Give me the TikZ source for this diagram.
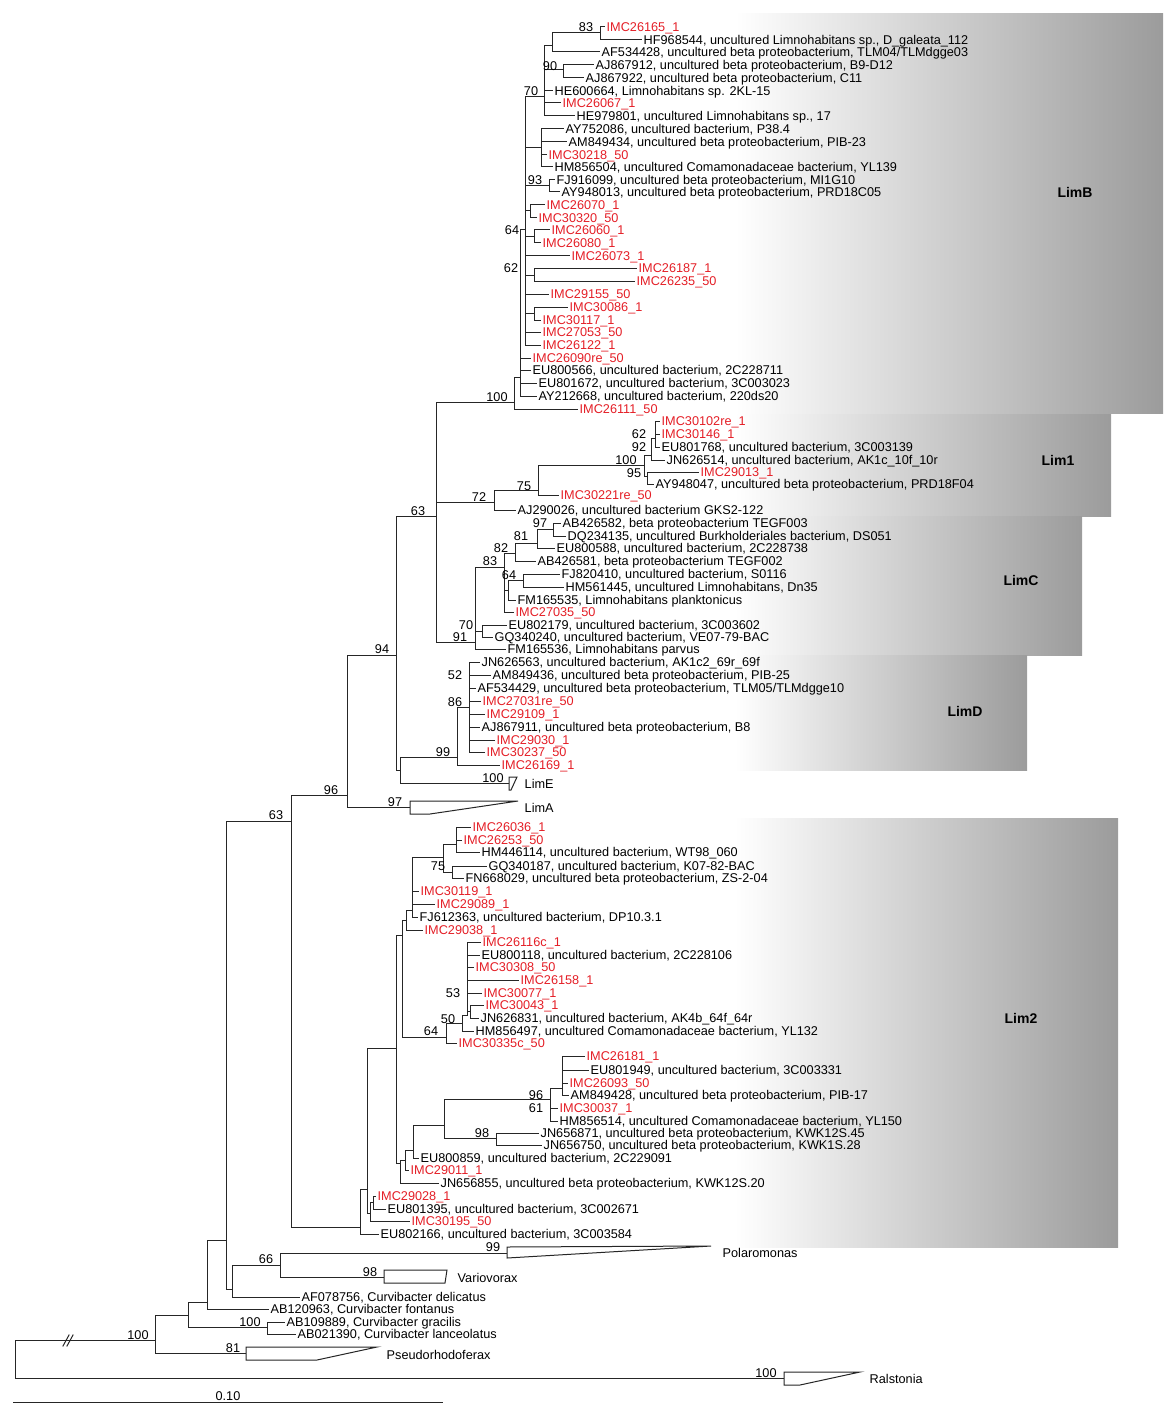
\documentclass[tikz,border=0pt]{standalone}
\usepackage{fontspec}
\setmainfont{Liberation Sans}
\usepackage{xcolor}
\usepackage{tikz}
\usetikzlibrary{positioning}

\definecolor{isolate}{RGB}{228,30,38}

\begin{document}
\begin{tikzpicture}[
    x=1pt, y=-1pt,
    branch/.style={line width=1pt, line cap=rect, black!85},
    leaf/.style={anchor=west, inner xsep=2.5pt, inner ysep=0pt, text height=11pt, text depth=2pt, font=\fontsize{12.7}{14}\selectfont},
    iso/.style={leaf, text=isolate},
    boot/.style={inner sep=0pt, font=\fontsize{12.7}{14}\selectfont},
    collapsed/.style={draw, line width=1pt, black!85, fill=white},
    band/.style={left color=white, right color=gray!78},
    cladename/.style={inner sep=0pt, font=\bfseries\fontsize{14}{16}\selectfont}
]

\useasboundingbox (0,0) rectangle (1173,1423);

% shaded clade bands
\shade[band] (735,14) rectangle (1163,413);
\shade[band] (735,414) rectangle (1111,516);
\shade[band] (735,516) rectangle (1082,655);
\shade[band] (735,655) rectangle (1027,770);
\shade[band] (735,818) rectangle (1118,1247);

\node[cladename] (limBname) at (1075,192) {LimB};
\node[cladename] (lim1name) at (1058,460) {Lim1};
\node[cladename] (limCname) at (1021,580) {LimC};
\node[cladename] (limDname) at (965,711) {LimD};
\node[cladename] (lim2name) at (1021,1018) {Lim2};

% LimB
\node[iso]  (imc26165) at (604,27)  {IMC26165\_1};
\node[leaf] (hf968544) at (641,40)  {HF968544, uncultured Limnohabitans sp., D\_galeata\_112};
\node[leaf] (af534428) at (599,52)  {AF534428, uncultured beta proteobacterium, TLM04/TLMdgge03};
\node[leaf] (aj867912) at (593,65)  {AJ867912, uncultured beta proteobacterium, B9-D12};
\node[leaf] (aj867922) at (583,78)  {AJ867922, uncultured beta proteobacterium, C11};
\node[leaf] (he600664) at (552,91)  {HE600664, Limnohabitans sp. 2KL-15};
\node[iso]  (imc26067) at (560,103) {IMC26067\_1};
\node[leaf] (he979801) at (574,116) {HE979801, uncultured Limnohabitans sp., 17};
\node[leaf] (ay752086) at (563,129) {AY752086, uncultured bacterium, P38.4};
\node[leaf] (am849434) at (566,142) {AM849434, uncultured beta proteobacterium, PIB-23};
\node[iso]  (imc30218) at (546,155) {IMC30218\_50};
\node[leaf] (hm856504) at (552,167) {HM856504, uncultured Comamonadaceae bacterium, YL139};
\node[leaf] (fj916099) at (554,180) {FJ916099, uncultured beta proteobacterium, MI1G10};
\node[leaf] (ay948013) at (559,192) {AY948013, uncultured beta proteobacterium, PRD18C05};
\node[iso]  (imc26070) at (544,205) {IMC26070\_1};
\node[iso]  (imc30320) at (536,218) {IMC30320\_50};
\node[iso]  (imc26060) at (549,230) {IMC26060\_1};
\node[iso]  (imc26080) at (540,243) {IMC26080\_1};
\node[iso]  (imc26073) at (569,256) {IMC26073\_1};
\node[iso]  (imc26187) at (636,268) {IMC26187\_1};
\node[iso]  (imc26235) at (634,281) {IMC26235\_50};
\node[iso]  (imc29155) at (548,294) {IMC29155\_50};
\node[iso]  (imc30086) at (567,307) {IMC30086\_1};
\node[iso]  (imc30117) at (540,320) {IMC30117\_1};
\node[iso]  (imc27053) at (540,332) {IMC27053\_50};
\node[iso]  (imc26122) at (540,345) {IMC26122\_1};
\node[iso]  (imc26090) at (530,358) {IMC26090re\_50};
\node[leaf] (eu800566) at (530,370) {EU800566, uncultured bacterium, 2C228711};
\node[leaf] (eu801672) at (536,383) {EU801672, uncultured bacterium, 3C003023};
\node[leaf] (ay212668) at (536,396) {AY212668, uncultured bacterium, 220ds20};
\node[iso]  (imc26111) at (577,409) {IMC26111\_50};

\draw[branch] (552,33) -- (600,33)  (600,27) -- (600,40)  (600,27) -- (imc26165)  (600,40) -- (hf968544);
\draw[branch] (544,46) -- (552,46)  (552,33) -- (552,52)  (552,52) -- (af534428);
\draw[branch] (544,70) -- (563,70)  (563,65) -- (563,78)  (563,65) -- (aj867912)  (563,78) -- (aj867922);
\draw[branch] (525,97) -- (544,97)  (544,46) -- (544,116)  (544,91) -- (he600664)  (544,103) -- (imc26067)  (544,116) -- (he979801);
\draw[branch] (525,148) -- (541,148)  (541,129) -- (541,167)  (541,129) -- (ay752086)  (541,142) -- (am849434)  (541,155) -- (imc30218)  (541,167) -- (hm856504);
\draw[branch] (525,186) -- (549,186)  (549,180) -- (549,192)  (549,180) -- (fj916099)  (549,192) -- (ay948013);
\draw[branch] (525,211) -- (530,211)  (530,205) -- (530,218)  (530,205) -- (imc26070)  (530,218) -- (imc30320);
\draw[branch] (525,237) -- (534,237)  (534,230) -- (534,243)  (534,230) -- (imc26060)  (534,243) -- (imc26080);
\draw[branch] (525,275) -- (534,275)  (534,268) -- (534,281)  (534,268) -- (imc26187)  (534,281) -- (imc26235);
\draw[branch] (525,313) -- (534,313)  (534,307) -- (534,320)  (534,307) -- (imc30086)  (534,320) -- (imc30117);
\draw[branch] (520,230) -- (525,230)  (525,97) -- (525,345)  (525,256) -- (imc26073)  (525,294) -- (imc29155)  (525,332) -- (imc27053)  (525,345) -- (imc26122);
\draw[branch] (514,377) -- (520,377)  (520,230) -- (520,396)  (520,358) -- (imc26090)  (520,370) -- (eu800566)  (520,383) -- (eu801672)  (520,396) -- (ay212668);
\draw[branch] (436,402) -- (514,402)  (514,377) -- (514,409)  (514,409) -- (imc26111);

% Lim1
\node[iso]  (imc30102) at (659,421) {IMC30102re\_1};
\node[iso]  (imc30146) at (659,434) {IMC30146\_1};
\node[leaf] (eu801768) at (659,447) {EU801768, uncultured bacterium, 3C003139};
\node[leaf] (jn626514) at (664,460) {JN626514, uncultured bacterium, AK1c\_10f\_10r};
\node[iso]  (imc29013) at (698,472) {IMC29013\_1};
\node[leaf] (ay948047) at (653,484) {AY948047, uncultured beta proteobacterium, PRD18F04};
\node[iso]  (imc30221) at (558,495) {IMC30221re\_50};
\node[leaf] (aj290026) at (515,510) {AJ290026, uncultured bacterium GKS2-122};

\draw[branch] (651,438) -- (655,438)  (655,421) -- (655,447)  (655,421) -- (imc30102)  (655,434) -- (imc30146)  (655,447) -- (eu801768);
\draw[branch] (644,455) -- (651,455)  (651,438) -- (651,460)  (651,460) -- (jn626514);
\draw[branch] (644,476) -- (647,476)  (647,472) -- (647,484)  (647,472) -- (imc29013)  (647,484) -- (ay948047);
\draw[branch] (538,465) -- (644,465)  (644,455) -- (644,476);
\draw[branch] (494,490) -- (538,490)  (538,465) -- (538,495)  (538,495) -- (imc30221);
\draw[branch] (436,502) -- (494,502)  (494,490) -- (494,510)  (494,510) -- (aj290026);
\draw[branch] (396,516) -- (436,516)  (436,402) -- (436,642);

% LimC
\node[leaf] (ab426582) at (560,523) {AB426582, beta proteobacterium TEGF003};
\node[leaf] (dq234135) at (565,536) {DQ234135, uncultured Burkholderiales bacterium, DS051};
\node[leaf] (eu800588) at (554,548) {EU800588, uncultured bacterium, 2C228738};
\node[leaf] (ab426581) at (535,561) {AB426581, beta proteobacterium TEGF002};
\node[leaf] (fj820410) at (559,574) {FJ820410, uncultured bacterium, S0116};
\node[leaf] (hm561445) at (563,587) {HM561445, uncultured Limnohabitans, Dn35};
\node[leaf] (fm165535) at (515,600) {FM165535, Limnohabitans planktonicus};
\node[iso]  (imc27035) at (513,612) {IMC27035\_50};
\node[leaf] (eu802179) at (506,625) {EU802179, uncultured bacterium, 3C003602};
\node[leaf] (gq340240) at (492,637) {GQ340240, uncultured bacterium, VE07-79-BAC};
\node[leaf] (fm165536) at (505,649) {FM165536, Limnohabitans parvus};

\draw[branch] (537,529) -- (553,529)  (553,523) -- (553,536)  (553,523) -- (ab426582)  (553,536) -- (dq234135);
\draw[branch] (515,543) -- (537,543)  (537,529) -- (537,548)  (537,548) -- (eu800588);
\draw[branch] (504,553) -- (515,553)  (515,543) -- (515,561)  (515,561) -- (ab426581);
\draw[branch] (508,580) -- (523,580)  (523,574) -- (523,587)  (523,574) -- (fj820410)  (523,587) -- (hm561445);
\draw[branch] (504,590) -- (508,590)  (508,580) -- (508,600)  (508,600) -- (fm165535);
\draw[branch] (475,567) -- (504,567)  (504,553) -- (504,612)  (504,612) -- (imc27035);
\draw[branch] (475,631) -- (482,631)  (482,625) -- (482,637)  (482,625) -- (eu802179)  (482,637) -- (gq340240);
\draw[branch] (436,642) -- (475,642)  (475,567) -- (475,649)  (475,649) -- (fm165536);

% LimD, LimE, LimA
\node[leaf] (jn626563) at (479,662) {JN626563, uncultured bacterium, AK1c2\_69r\_69f};
\node[leaf] (am849436) at (490,675) {AM849436, uncultured beta proteobacterium, PIB-25};
\node[leaf] (af534429) at (475,688) {AF534429, uncultured beta proteobacterium, TLM05/TLMdgge10};
\node[iso]  (imc27031) at (480,701) {IMC27031re\_50};
\node[iso]  (imc29109) at (484,714) {IMC29109\_1};
\node[leaf] (aj867911) at (479,727) {AJ867911, uncultured beta proteobacterium, B8};
\node[iso]  (imc29030) at (494,740) {IMC29030\_1};
\node[iso]  (imc30237) at (484,752) {IMC30237\_50};
\node[iso]  (imc26169) at (499,765) {IMC26169\_1};
\node[leaf] (limE) at (522,784) {LimE};
\node[leaf] (limA) at (522,808) {LimA};

\draw[branch] (457,707) -- (469,707)  (469,662) -- (469,752)  (469,662) -- (jn626563)  (469,675) -- (am849436)  (469,688) -- (af534429)  (469,701) -- (imc27031)  (469,714) -- (imc29109)  (469,727) -- (aj867911)  (469,740) -- (imc29030)  (469,752) -- (imc30237);
\draw[branch] (400,757) -- (457,757)  (457,707) -- (457,765)  (457,765) -- (imc26169);
\draw[branch] (396,770) -- (400,770)  (400,757) -- (400,783)  (400,783) -- (509,783);
\draw[collapsed] (509,777) -- (517,777) -- (511,790) -- (509,790) -- cycle;
\draw[branch] (347,655) -- (396,655)  (396,516) -- (396,770);
\draw[branch] (291,795) -- (347,795)  (347,655) -- (347,807)  (347,807) -- (410,807);
\draw[collapsed] (410,801) -- (518,801) -- (430,814) -- (410,814) -- cycle;

% Lim2
\node[iso]  (imc26036) at (470,827)  {IMC26036\_1};
\node[iso]  (imc26253) at (461,840)  {IMC26253\_50};
\node[leaf] (hm446114) at (479,852)  {HM446114, uncultured bacterium, WT98\_060};
\node[leaf] (gq340187) at (486,866)  {GQ340187, uncultured bacterium, K07-82-BAC};
\node[leaf] (fn668029) at (463,878)  {FN668029, uncultured beta proteobacterium, ZS-2-04};
\node[iso]  (imc30119) at (418,891)  {IMC30119\_1};
\node[iso]  (imc29089) at (434,904)  {IMC29089\_1};
\node[leaf] (fj612363) at (417,917)  {FJ612363, uncultured bacterium, DP10.3.1};
\node[iso]  (imc29038) at (422,930)  {IMC29038\_1};
\node[iso]  (imc26116) at (480,942)  {IMC26116c\_1};
\node[leaf] (eu800118) at (479,955)  {EU800118, uncultured bacterium, 2C228106};
\node[iso]  (imc30308) at (473,967)  {IMC30308\_50};
\node[iso]  (imc26158) at (518,980)  {IMC26158\_1};
\node[iso]  (imc30077) at (481,993)  {IMC30077\_1};
\node[iso]  (imc30043) at (483,1005) {IMC30043\_1};
\node[leaf] (jn626831) at (478,1018) {JN626831, uncultured bacterium, AK4b\_64f\_64r};
\node[leaf] (hm856497) at (473,1031) {HM856497, uncultured Comamonadaceae bacterium, YL132};
\node[iso]  (imc30335) at (456,1043) {IMC30335c\_50};
\node[iso]  (imc26181) at (584,1056) {IMC26181\_1};
\node[leaf] (eu801949) at (588,1070) {EU801949, uncultured bacterium, 3C003331};
\node[iso]  (imc26093) at (567,1083) {IMC26093\_50};
\node[leaf] (am849428) at (568,1095) {AM849428, uncultured beta proteobacterium, PIB-17};
\node[iso]  (imc30037) at (557,1108) {IMC30037\_1};
\node[leaf] (hm856514) at (557,1121) {HM856514, uncultured Comamonadaceae bacterium, YL150};
\node[leaf] (jn656871) at (538,1133) {JN656871, uncultured beta proteobacterium, KWK12S.45};
\node[leaf] (jn656750) at (541,1145) {JN656750, uncultured beta proteobacterium, KWK1S.28};
\node[leaf] (eu800859) at (418,1158) {EU800859, uncultured bacterium, 2C229091};
\node[iso]  (imc29011) at (408,1170) {IMC29011\_1};
\node[leaf] (jn656855) at (438,1183) {JN656855, uncultured beta proteobacterium, KWK12S.20};
\node[iso]  (imc29028) at (375,1196) {IMC29028\_1};
\node[leaf] (eu801395) at (385,1209) {EU801395, uncultured bacterium, 3C002671};
\node[iso]  (imc30195) at (409,1221) {IMC30195\_50};
\node[leaf] (eu802166) at (378,1234) {EU802166, uncultured bacterium, 3C003584};

\draw[branch] (443,844) -- (456,844)  (456,827) -- (456,852)  (456,827) -- (imc26036)  (456,840) -- (imc26253)  (456,852) -- (hm446114);
\draw[branch] (443,872) -- (452,872)  (452,866) -- (452,878)  (452,866) -- (gq340187)  (452,878) -- (fn668029);
\draw[branch] (412,857) -- (443,857)  (443,844) -- (443,872);
\draw[branch] (406,910) -- (412,910)  (412,857) -- (412,917)  (412,891) -- (imc30119)  (412,904) -- (imc29089)  (412,917) -- (fj612363);
\draw[branch] (402,920) -- (406,920)  (406,910) -- (406,930)  (406,930) -- (imc29038);
\draw[branch] (467,1011) -- (470,1011)  (470,1005) -- (470,1018)  (470,1005) -- (imc30043)  (470,1018) -- (jn626831);
\draw[branch] (462,1015) -- (467,1015)  (467,942) -- (467,1015)  (467,942) -- (imc26116)  (467,955) -- (eu800118)  (467,967) -- (imc30308)  (467,980) -- (imc26158)  (467,993) -- (imc30077);
\draw[branch] (446,1023) -- (462,1023)  (462,1015) -- (462,1031)  (462,1031) -- (hm856497);
\draw[branch] (402,1037) -- (446,1037)  (446,1023) -- (446,1043)  (446,1043) -- (imc30335);
\draw[branch] (396,935) -- (402,935)  (402,920) -- (402,1037);
\draw[branch] (550,1088) -- (562,1088)  (562,1056) -- (562,1095)  (562,1056) -- (imc26181)  (562,1070) -- (eu801949)  (562,1083) -- (imc26093)  (562,1095) -- (am849428);
\draw[branch] (444,1099) -- (550,1099)  (550,1088) -- (550,1121)  (550,1108) -- (imc30037)  (550,1121) -- (hm856514);
\draw[branch] (444,1138) -- (496,1138)  (496,1133) -- (496,1145)  (496,1133) -- (jn656871)  (496,1145) -- (jn656750);
\draw[branch] (413,1125) -- (444,1125)  (444,1099) -- (444,1138);
\draw[branch] (405,1150) -- (413,1150)  (413,1125) -- (413,1158)  (413,1158) -- (eu800859);
\draw[branch] (400,1160) -- (405,1160)  (405,1150) -- (405,1170)  (405,1170) -- (imc29011);
\draw[branch] (396,1163) -- (400,1163)  (400,1160) -- (400,1183)  (400,1183) -- (jn656855);
\draw[branch] (367,1048) -- (396,1048)  (396,935) -- (396,1163);
\draw[branch] (370,1202) -- (373,1202)  (373,1196) -- (373,1209)  (373,1196) -- (imc29028)  (373,1209) -- (eu801395);
\draw[branch] (367,1213) -- (370,1213)  (370,1202) -- (370,1221)  (370,1221) -- (imc30195);
\draw[branch] (360,1189) -- (367,1189)  (367,1048) -- (367,1213);
\draw[branch] (291,1227) -- (360,1227)  (360,1189) -- (360,1234)  (360,1234) -- (eu802166);
\draw[branch] (226,821) -- (291,821)  (291,795) -- (291,1227);

% outgroups
\node[leaf] (polaromonas) at (720,1253) {Polaromonas};
\node[leaf] (variovorax) at (455,1278) {Variovorax};
\node[leaf] (af078756) at (299,1297) {AF078756, Curvibacter delicatus};
\node[leaf] (ab120963) at (268,1309) {AB120963, Curvibacter fontanus};
\node[leaf] (ab109889) at (284,1322) {AB109889, Curvibacter gracilis};
\node[leaf] (ab021390) at (295,1334) {AB021390, Curvibacter lanceolatus};
\node[leaf] (pseudorhodoferax) at (384,1355) {Pseudorhodoferax};
\node[leaf] (ralstonia) at (867,1379) {Ralstonia};

\draw[branch] (232,1265) -- (280,1265)  (280,1253) -- (280,1277)  (280,1253) -- (507,1253)  (280,1277) -- (384,1277);
\draw[collapsed] (507,1247) -- (711,1246) -- (507,1258) -- cycle;
\draw[collapsed] (384,1270) -- (447,1270) -- (445,1283) -- (384,1283) -- cycle;
\draw[branch] (226,1289) -- (232,1289)  (232,1265) -- (232,1297)  (232,1297) -- (af078756);
\draw[branch] (207,1240) -- (226,1240)  (226,821) -- (226,1289);
\draw[branch] (188,1302) -- (207,1302)  (207,1240) -- (207,1309)  (207,1309) -- (ab120963);
\draw[branch] (188,1327) -- (267,1327)  (267,1322) -- (267,1334)  (267,1322) -- (ab109889)  (267,1334) -- (ab021390);
\draw[branch] (155,1315) -- (188,1315)  (188,1302) -- (188,1327);
\draw[branch] (155,1353) -- (246,1353);
\draw[collapsed] (246,1347) -- (377,1347) -- (317,1360) -- (246,1360) -- cycle;
\draw[branch] (15,1340) -- (155,1340)  (155,1315) -- (155,1353);
\draw[branch] (15,1340) -- (15,1378)  (15,1378) -- (784,1378);
\draw[collapsed] (784,1372) -- (860,1372) -- (800,1385) -- (784,1385) -- cycle;
\draw[branch] (63,1346) -- (69,1335)  (67,1346) -- (73,1335);

% scale
\draw[branch] (13,1402) -- (442,1402);
\node[boot] (scalebar) at (228,1396) {0.10};

% bootstrap values
\node[boot] (bs01) at (586,27) {83};
\node[boot] (bs02) at (550,66) {90};
\node[boot] (bs03) at (531,91) {70};
\node[boot] (bs04) at (535,180) {93};
\node[boot] (bs05) at (512,230) {64};
\node[boot] (bs06) at (511,268) {62};
\node[boot] (bs07) at (497,397) {100};
\node[boot] (bs08) at (639,434) {62};
\node[boot] (bs09) at (639,447) {92};
\node[boot] (bs10) at (626,460) {100};
\node[boot] (bs11) at (634,473) {95};
\node[boot] (bs12) at (524,486) {75};
\node[boot] (bs13) at (479,497) {72};
\node[boot] (bs14) at (418,511) {63};
\node[boot] (bs15) at (540,523) {97};
\node[boot] (bs16) at (521,536) {81};
\node[boot] (bs17) at (501,548) {82};
\node[boot] (bs18) at (490,561) {83};
\node[boot] (bs19) at (509,575) {64};
\node[boot] (bs20) at (466,625) {70};
\node[boot] (bs21) at (460,637) {91};
\node[boot] (bs22) at (382,649) {94};
\node[boot] (bs23) at (455,675) {52};
\node[boot] (bs24) at (455,702) {86};
\node[boot] (bs25) at (443,752) {99};
\node[boot] (bs26) at (493,778) {100};
\node[boot] (bs27) at (331,790) {96};
\node[boot] (bs28) at (395,802) {97};
\node[boot] (bs29) at (276,815) {63};
\node[boot] (bs30) at (438,866) {75};
\node[boot] (bs31) at (453,993) {53};
\node[boot] (bs32) at (448,1019) {50};
\node[boot] (bs33) at (431,1031) {64};
\node[boot] (bs34) at (536,1095) {96};
\node[boot] (bs35) at (536,1108) {61};
\node[boot] (bs36) at (482,1133) {98};
\node[boot] (bs37) at (493,1247) {99};
\node[boot] (bs38) at (266,1259) {66};
\node[boot] (bs39) at (370,1272) {98};
\node[boot] (bs40) at (138,1335) {100};
\node[boot] (bs41) at (250,1322) {100};
\node[boot] (bs42) at (233,1348) {81};
\node[boot] (bs43) at (766,1373) {100};

\end{tikzpicture}
\end{document}
